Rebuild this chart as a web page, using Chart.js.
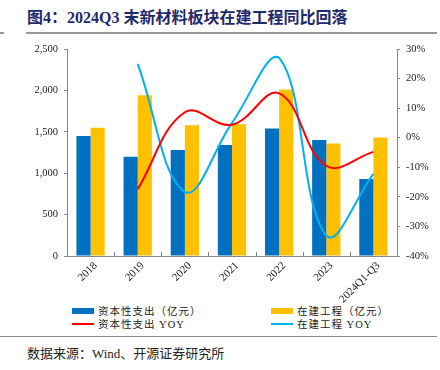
<!DOCTYPE html>
<html><head><meta charset="utf-8">
<script src="https://cdn.jsdelivr.net/npm/chart.js@4.4.1/dist/chart.umd.min.js"></script>
<style>
body{margin:0;width:440px;height:370px;position:relative;background:#fff;overflow:hidden;font-family:"Liberation Serif","Noto Sans CJK SC",serif;}
#title{position:absolute;left:27px;top:4px;font-size:16px;font-weight:bold;color:#1F2A6B;white-space:nowrap;}
#tl{position:absolute;left:26px;top:32px;width:411px;height:2px;background:#999;}
#tl2{position:absolute;left:0;top:32px;width:4px;height:2px;background:#999;}
#bl{position:absolute;left:0;top:336px;width:437px;height:1px;background:#888;}
#src{position:absolute;left:27px;top:343px;font-size:13px;color:#222;white-space:nowrap;}
#cv{position:absolute;left:0;top:0;}
.lg{position:absolute;font-size:10.5px;color:#222;white-space:nowrap;display:flex;align-items:center;letter-spacing:1px}
.lg span.k{display:inline-block;width:22px;margin-right:4px;}
</style></head><body>
<div id="title">图4：2024Q3 末新材料板块在建工程同比回落</div>
<div id="tl2"></div><div id="tl"></div>
<div id="legend"></div>
<div id="bl"></div>
<div id="src">数据来源：Wind、开源证券研究所</div>
<canvas id="cv" width="440" height="370"></canvas>
<script>
const categories = ["2018","2019","2020","2021","2022","2023","2024Q1-Q3"];
const capex = [1450,1200,1280,1340,1540,1400,930];
const cip = [1550,1940,1580,1590,2010,1360,1430];
const capexYoy = [null,-17.4,8.6,4.4,15.0,-9.5,-4.8];
const cipYoy = [null,25.0,-18.3,5.0,27.0,-33.0,-12.2];
const leftTicks = [0,500,1000,1500,2000,2500];
const rightTicks = [-40,-30,-20,-10,0,10,20,30];

const seriesNames = ["资本性支出（亿元）","在建工程（亿元）","资本性支出 YOY","在建工程 YOY"];
const colors = ["#0070C0","#FFC000","#FF0000","#00B0F0"];
const tickFont = {family:"Liberation Serif", size:10.5};

const xDecor = {
  id:'xDecor',
  afterDraw(chart){
    const {ctx, chartArea, scales:{x}} = chart;
    ctx.save();
    ctx.strokeStyle='#888';ctx.lineWidth=1;
    for(let i=0;i<=categories.length;i++){
      const px = Math.round(x.getPixelForValue(i-0.5))+0.5;
      ctx.beginPath();ctx.moveTo(px,chartArea.bottom);ctx.lineTo(px,chartArea.bottom-4);ctx.stroke();
    }
    ctx.fillStyle='#222';
    ctx.font='11px "Liberation Serif"';
    ctx.textAlign='right';ctx.textBaseline='middle';
    x.ticks.forEach((t,i)=>{
      const cx = x.getPixelForValue(i);
      ctx.save();
      ctx.translate(cx+5, chartArea.bottom+8);
      ctx.rotate(-Math.PI/4);
      ctx.fillText(x.getLabelForValue(i),0,0);
      ctx.restore();
    });
    ctx.restore();
  }
};

const chart = new Chart(document.getElementById('cv'),{
  data:{
    labels:categories,
    datasets:[
      {type:'line',label:seriesNames[2],data:capexYoy,yAxisID:'y1',borderColor:colors[2],borderWidth:2,pointRadius:0,tension:0.4,order:0},
      {type:'line',label:seriesNames[3],data:cipYoy,yAxisID:'y1',borderColor:colors[3],borderWidth:2,pointRadius:0,tension:0.4,order:0},
      {type:'bar',label:seriesNames[0],data:capex,yAxisID:'y',backgroundColor:colors[0],categoryPercentage:0.6,barPercentage:1.0,order:1},
      {type:'bar',label:seriesNames[1],data:cip,yAxisID:'y',backgroundColor:colors[1],categoryPercentage:0.6,barPercentage:1.0,order:1}
    ]
  },
  options:{
    responsive:false,animation:false,
    layout:{padding:{top:49,bottom:0,left:0,right:0}},
    plugins:{legend:{display:false},tooltip:{enabled:false}},
    scales:{
      x:{
        offset:true,
        grid:{display:false},
        border:{display:true,color:'#888'},
        ticks:{display:false,autoSkip:false},
        afterFit(s){s.height=114;}
      },
      y:{
        position:'left',min:0,max:2500,
        afterBuildTicks(s){s.ticks=leftTicks.map(v=>({value:v}));},
        grid:{drawOnChartArea:false,drawTicks:true,tickLength:3,color:'#888'},
        border:{display:true,color:'#888'},
        ticks:{font:tickFont,color:'#222',padding:6,callback:v=>v.toLocaleString('en-US')},
        afterFit(s){s.width=67;}
      },
      y1:{
        position:'right',min:-40,max:30,
        afterBuildTicks(s){s.ticks=rightTicks.map(v=>({value:v}));},
        grid:{drawOnChartArea:false,drawTicks:true,tickLength:3,color:'#888'},
        border:{display:true,color:'#888'},
        ticks:{font:tickFont,color:'#222',padding:6,callback:v=>v+'%'},
        afterFit(s){s.width=43;}
      }
    }
  },
  plugins:[xDecor]
});

const lg = document.getElementById('legend');
const pos = [[72,303,'box'],[271,303,'box'],[72,316,'line'],[271,316,'line']];
const dsIdx = [2,3,0,1];
pos.forEach((p,i)=>{
  const d = document.createElement('div');
  d.className='lg';d.style.left=p[0]+'px';d.style.top=p[1]+'px';
  const k = document.createElement('span');k.className='k';
  k.style.height = p[2]==='box'?'6px':'2px';
  k.style.background = colors[i];
  d.appendChild(k);
  const t = document.createElement('span');t.textContent = chart.data.datasets[dsIdx[i]].label;
  d.appendChild(t);
  lg.appendChild(d);
});
</script>
</body></html>
